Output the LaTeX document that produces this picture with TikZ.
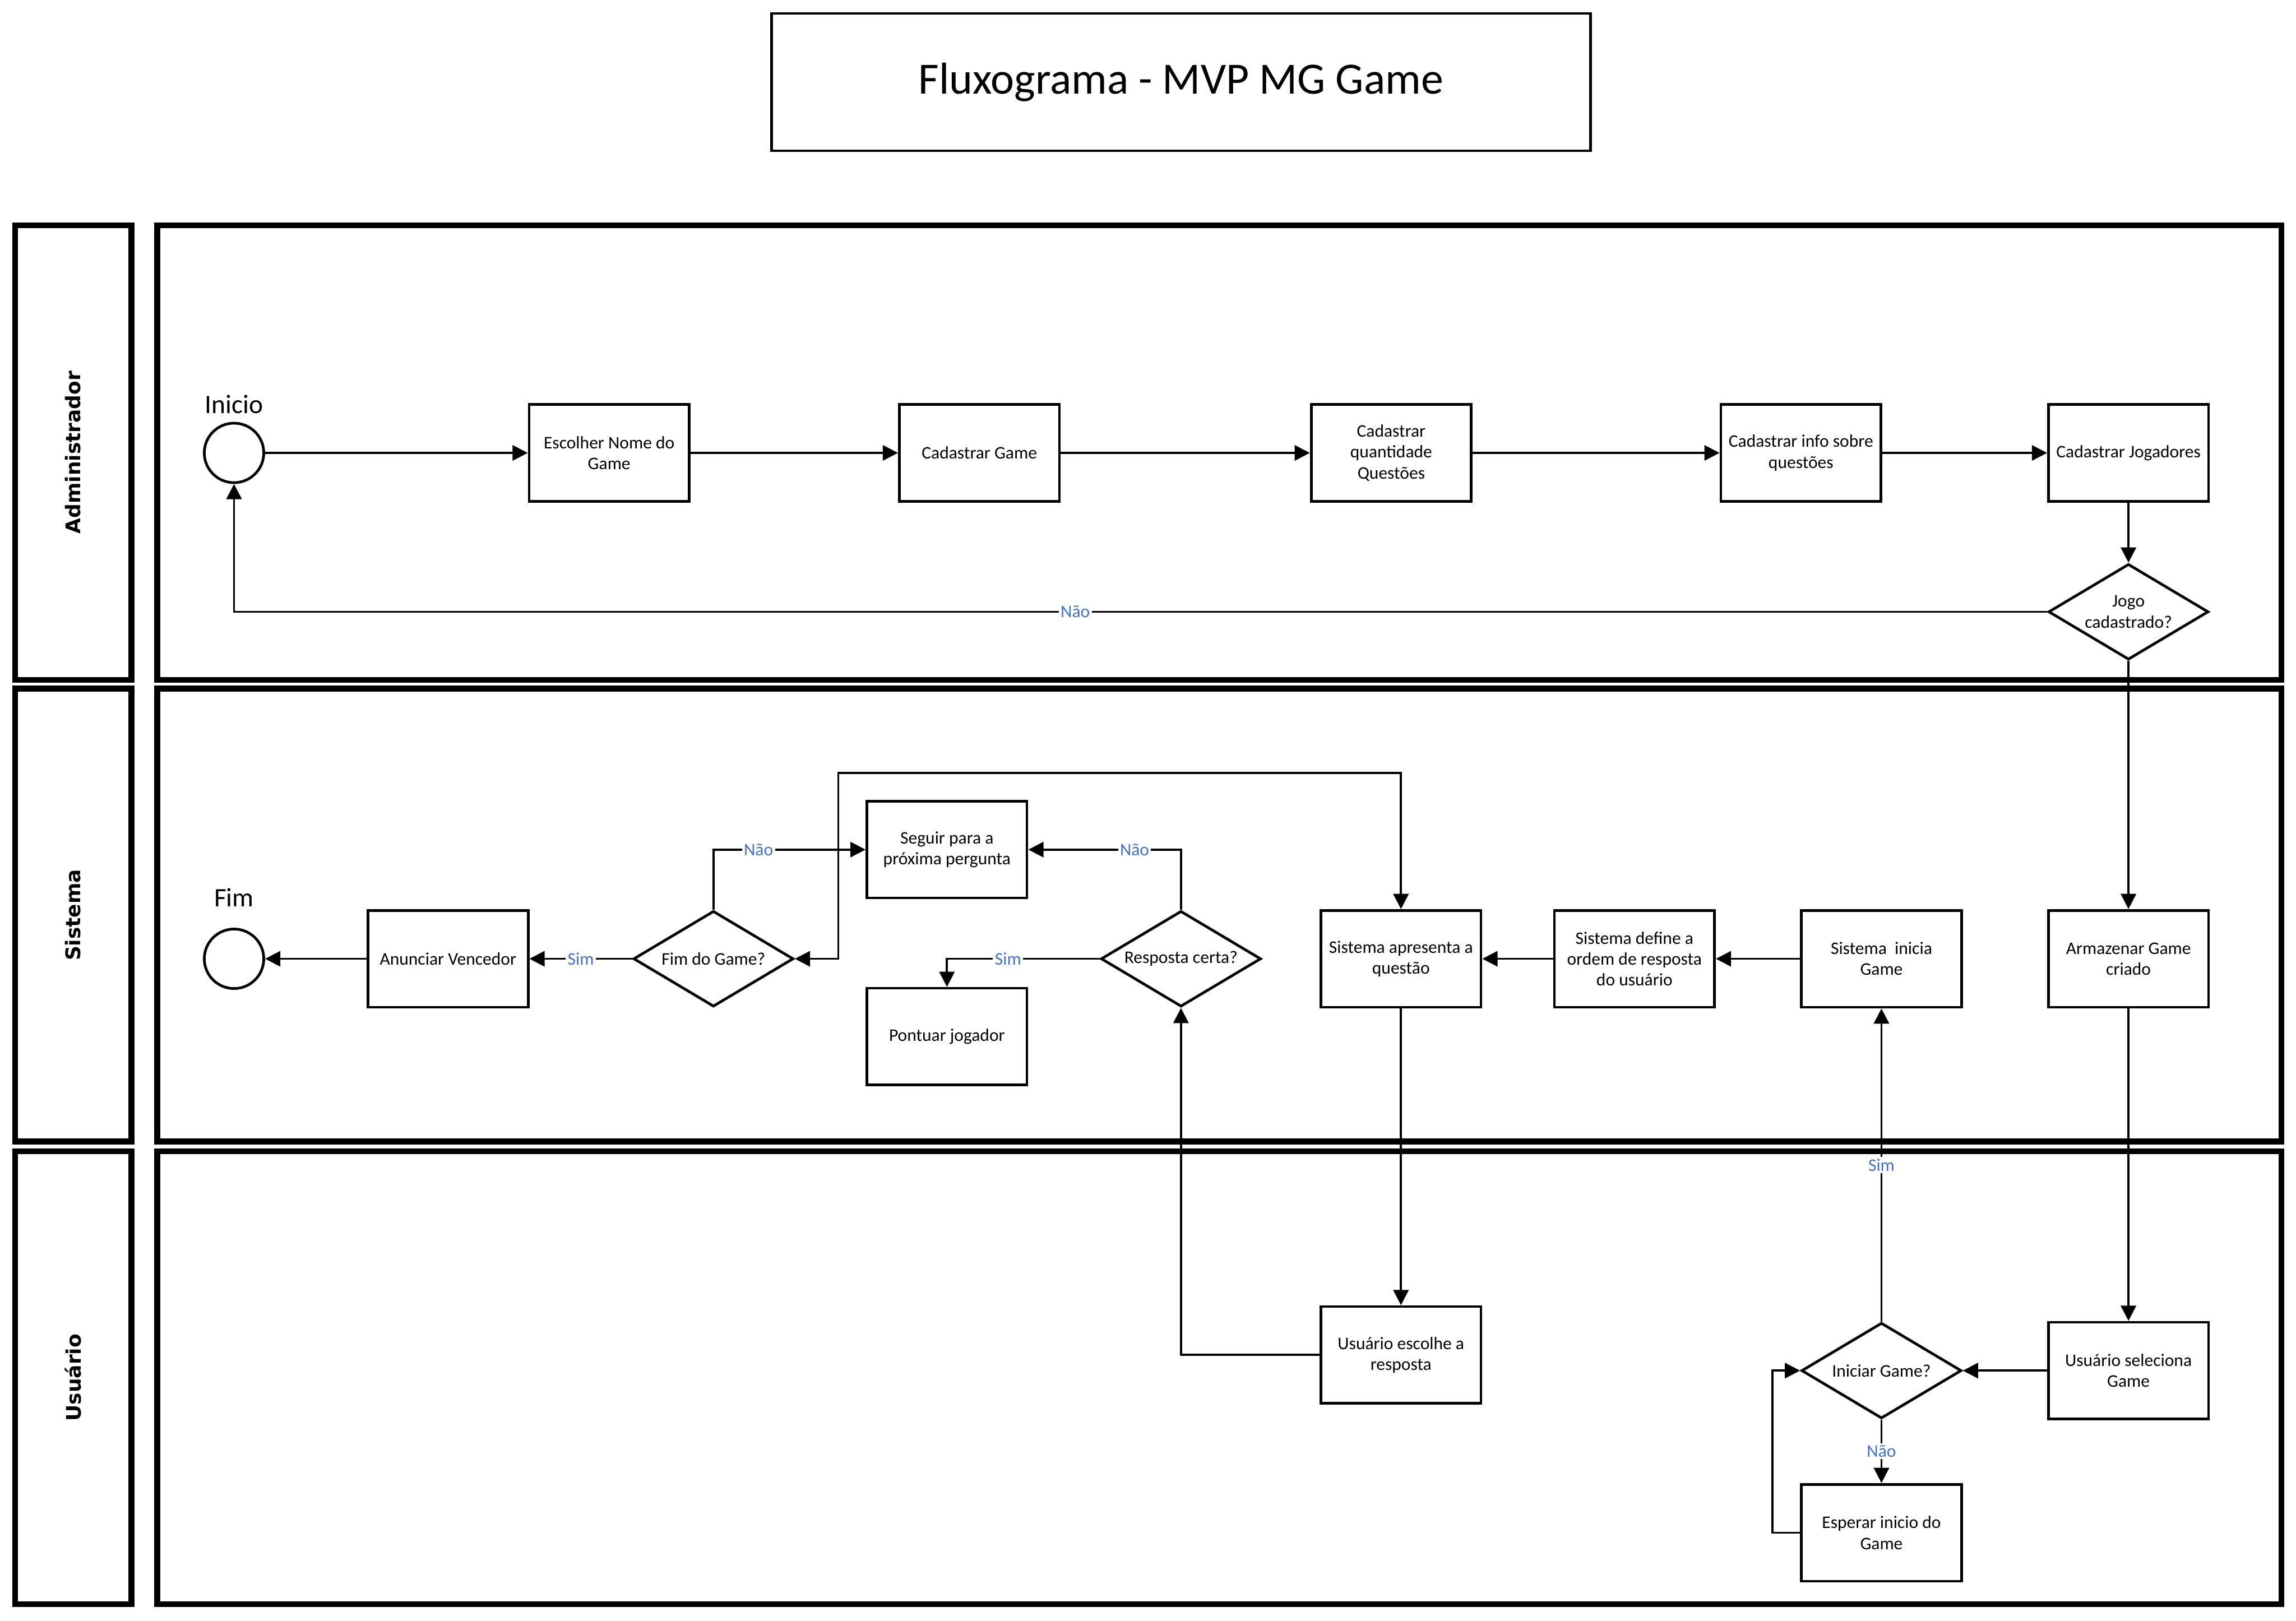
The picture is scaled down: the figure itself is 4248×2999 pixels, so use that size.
\documentclass[tikz,border=0pt]{standalone}
\usepackage{fontspec}
\setmainfont{Carlito}
\newfontfamily\lanefont{DejaVu Sans}
\usetikzlibrary{arrows.meta,shapes.geometric}
\definecolor{lblblue}{HTML}{4472C4}
\newcommand\bxfont{\fontsize{9.3}{11}\selectfont}
\begin{document}
\begin{tikzpicture}[x=0.01cm,y=-0.01cm,
  box/.style={draw, line width=1.4pt, minimum width=2.96cm, minimum height=1.79cm, inner sep=0pt, align=center, font=\bxfont},
  dec/.style={draw, diamond, line width=1.4pt, minimum width=2.96cm, minimum height=1.77cm, inner sep=0pt},
  dectext/.style={align=center, font=\bxfont, inner sep=0pt},
  term/.style={draw, circle, line width=1.4pt, minimum size=1.1cm, inner sep=0pt},
  lane/.style={draw, line width=3.1pt},
  lanelbl/.style={rotate=90, font=\lanefont\bfseries\fontsize{10.6}{12}\selectfont},
  flow/.style={line width=1.1pt, -{Triangle[length=8pt,width=8pt]}},
  both/.style={line width=1.1pt, {Triangle[length=8pt,width=8pt]}-{Triangle[length=8pt,width=8pt]}},
  lbl/.style={fill=white, text=lblblue, font=\bxfont, inner sep=1pt},
]
\path[fill=white,use as bounding box] (0,0) rectangle (4248,2999);

% title
\node[draw, line width=1.4pt, minimum width=15.14cm, minimum height=2.54cm, font=\fontsize{23.5}{28}\selectfont] (title) at (2185,152) {Fluxograma - MVP MG Game};

% lanes
\draw[lane] (28,417) rectangle (243,1258);
\draw[lane] (291,417) rectangle (4221,1258);
\draw[lane] (28,1274) rectangle (243,2112);
\draw[lane] (291,1274) rectangle (4221,2112);
\draw[lane] (28,2130) rectangle (243,2968);
\draw[lane] (291,2130) rectangle (4221,2968);
\node[lanelbl] (l1) at (135,837) {Administrador};
\node[lanelbl] (l2) at (135,1693) {Sistema};
\node[lanelbl] (l3) at (135,2549) {Usuário};

% Administrador
\node[term] (ini) at (433,838) {};
\node[font=\fontsize{14}{16}\selectfont] (inilbl) at (433,748) {Inicio};
\node[box] (esc) at (1127,838) {Escolher Nome do\\Game};
\node[box] (cgame) at (1812,838) {Cadastrar Game};
\node[box] (cqtd) at (2574,838) {Cadastrar\\quantidade\\Questões};
\node[box] (cinfo) at (3332,838) {Cadastrar info sobre\\questões};
\node[box] (cjog) at (3938,838) {Cadastrar Jogadores};
\node[dec] (jogo) at (3938,1132) {};
\node[dectext] (jogot) at (jogo) {Jogo\\cadastrado?};

% Sistema
\node[term] (fim) at (433,1774) {};
\node[font=\fontsize{14}{16}\selectfont] (fimlbl) at (433,1661) {Fim};
\node[box] (anun) at (829,1774) {Anunciar Vencedor};
\node[dec] (fimg) at (1320,1774) {};
\node[dectext] (fimgt) at (fimg) {Fim do Game?};
\node[box] (seg) at (1752,1572) {Seguir para a\\próxima pergunta};
\node[box] (pont) at (1752,1918) {Pontuar jogador};
\node[dec] (resp) at (2185,1774) {};
\node[dectext] (respt) at (resp) {Resposta certa?};
\node[box] (apr) at (2592,1774) {Sistema apresenta a\\questão};
\node[box] (def) at (3024,1774) {Sistema define a\\ordem de resposta\\do usuário};
\node[box] (ini2) at (3481,1774) {Sistema\ \ inicia\\Game};
\node[box] (arm) at (3938,1774) {Armazenar Game\\criado};

% Usuario
\node[box] (esco) at (2592,2507) {Usuário escolhe a\\resposta};
\node[box] (sel) at (3938,2536) {Usuário seleciona\\Game};
\node[dec] (inic) at (3481,2536) {};
\node[dectext] (inict) at (inic) {Iniciar Game?};
\node[box] (esp) at (3481,2836) {Esperar inicio do\\Game};

% connectors
\draw[flow] (ini) -- (esc);
\draw[flow] (esc) -- (cgame);
\draw[flow] (cgame) -- (cqtd);
\draw[flow] (cqtd) -- (cinfo);
\draw[flow] (cinfo) -- (cjog);
\draw[flow] (cjog) -- (jogo);
\draw[flow] (jogo.west) -| node[lbl, pos=0.268] {Não} (ini.south);
\draw[flow] (jogo) -- (arm);
\draw[flow] (arm) -- (sel);
\draw[flow] (sel) -- (inic);
\draw[flow] (inic) -- node[lbl] {Sim} (ini2);
\draw[flow] (inic) -- node[lbl] {Não} (esp);
\coordinate (espl) at (3279,2836);
\draw[flow] (esp.west) -- (espl) |- (inic.west);
\draw[flow] (ini2) -- (def);
\draw[flow] (def) -- (apr);
\draw[flow] (apr) -- (esco);
\draw[flow] (esco.west) -| (resp.south);
\draw[flow] (resp.north) |- node[lbl, pos=0.652] {Não} (seg.east);
\draw[flow] (resp.west) -| node[lbl, pos=0.3] {Sim} (pont.north);
\draw[flow] (fimg.north) |- node[lbl, pos=0.648] {Não} (seg.west);
\draw[flow] (fimg) -- node[lbl] {Sim} (anun);
\draw[flow] (anun) -- (fim);
\coordinate (lp) at (1551,1430);
\draw[both] (fimg.east) -| (lp) -| (apr.north);
\end{tikzpicture}
\end{document}
